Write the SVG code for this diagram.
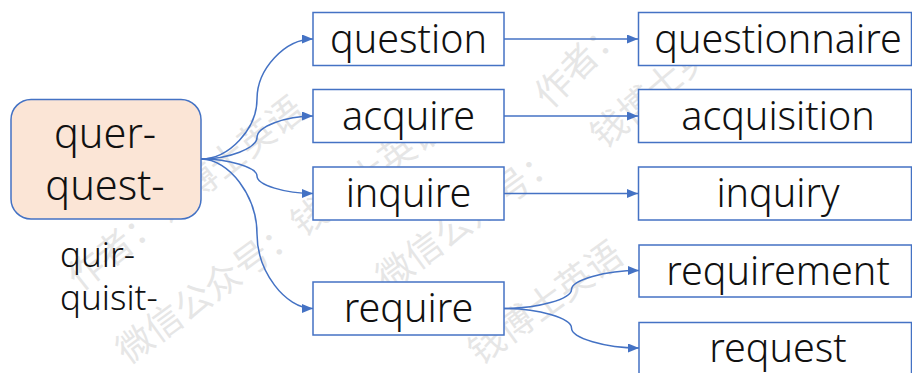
<svg xmlns="http://www.w3.org/2000/svg" width="912" height="373" viewBox="0 0 912 373">
<style>
.box{fill:#ffffff;stroke:#4472C4;stroke-width:1.5}
.root{fill:#FBE5D6;stroke:#4472C4;stroke-width:1.5}
.t{font-family:"Noto Sans","Open Sans","Liberation Sans",sans-serif;font-weight:300;font-size:39.5px;fill:#111111;text-anchor:middle}
.big{font-size:41.5px}
.side{font-size:35px;text-anchor:start}
.wm{font-family:"Noto Sans CJK SC","Noto Sans",sans-serif;font-size:36px;fill:#c8c8c8;opacity:0.45}
.c{fill:none;stroke:#4472C4;stroke-width:1.5;marker-end:url(#arr)}
</style>
<defs>
<marker id="arr" markerUnits="userSpaceOnUse" markerWidth="12" markerHeight="10" refX="11" refY="4.5" orient="auto">
<path d="M0,0 L11,4.5 L0,9 z" fill="#4472C4"/>
</marker>
</defs>
<rect width="912" height="373" fill="#ffffff"/>
<g id="watermark">
<text class="wm" transform="translate(80,292) rotate(-38)">作者：钱博士英语</text>
<text class="wm" transform="translate(128,365) rotate(-36)">微信公众号：钱博士英语</text>
<text class="wm" transform="translate(388,292) rotate(-36)">微信公众号：</text>
<text class="wm" transform="translate(480,366) rotate(-36)">钱博士英语</text>
<text class="wm" transform="translate(550,110) rotate(-45)">作者：</text>
<text class="wm" transform="translate(604,150) rotate(-40)">钱博士英语</text>
</g>
<g id="connectors">
<path class="c" d="M201,159 C229,159 257,129 257,99 C257,69 285,39 313,39"/>
<path class="c" d="M201,159 C229,159 257,148 257,137.5 C257,127 285,116 313,116"/>
<path class="c" d="M201,159 C229,159 257,167.5 257,176 C257,185 285,193.5 313,193.5"/>
<path class="c" d="M201,159 C229,159 257,196 257,234 C257,271 285,308.5 313,308.5"/>
<path class="c" d="M504,39 L638,39"/>
<path class="c" d="M504,116 L638,116"/>
<path class="c" d="M504,193.5 L638,193.5"/>
<path class="c" d="M504,308.5 C538,308.5 571.5,299 571.5,289.5 C571.5,280 605,270.5 639,270.5"/>
<path class="c" d="M504,308.5 C538,308.5 571.5,318 571.5,328 C571.5,338 605,348 639,348"/>
</g>
<g id="node-root">
<rect class="root" x="11" y="99.5" width="190" height="119.5" rx="20" ry="20"/>
<text class="t big" x="105" y="148">quer-</text>
<text class="t big" x="105" y="200">quest-</text>
</g>
<g id="label-quir">
<text class="t side" x="60" y="267">quir-</text>
<text class="t side" x="60" y="310">quisit-</text>
</g>
<g id="node-question">
<rect class="box" x="313" y="12.5" width="191" height="53"/>
<text class="t" x="408.5" y="53">question</text>
</g>
<g id="node-acquire">
<rect class="box" x="313" y="89.5" width="191" height="53"/>
<text class="t" x="408.5" y="130">acquire</text>
</g>
<g id="node-inquire">
<rect class="box" x="313" y="167" width="191" height="53"/>
<text class="t" x="408.5" y="207">inquire</text>
</g>
<g id="node-require">
<rect class="box" x="313" y="282" width="191" height="53"/>
<text class="t" x="408.5" y="322">require</text>
</g>
<g id="node-questionnaire">
<rect class="box" x="638.5" y="12.5" width="273" height="53"/>
<text class="t" x="778" y="53">questionnaire</text>
</g>
<g id="node-acquisition">
<rect class="box" x="638.5" y="89.5" width="273" height="53"/>
<text class="t" x="778" y="130">acquisition</text>
</g>
<g id="node-inquiry">
<rect class="box" x="638.5" y="167" width="273" height="53"/>
<text class="t" x="778" y="207">inquiry</text>
</g>
<g id="node-requirement">
<rect class="box" x="639" y="245" width="272.5" height="52"/>
<text class="t" x="778" y="285">requirement</text>
</g>
<g id="node-request">
<rect class="box" x="639" y="322.5" width="272.5" height="53"/>
<text class="t" x="778" y="362">request</text>
</g>
</svg>
